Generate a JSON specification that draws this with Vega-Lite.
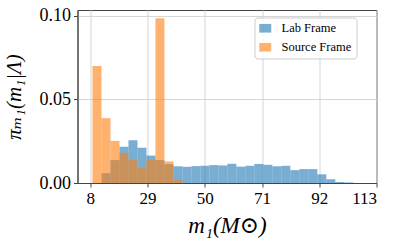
{
  "$schema": "https://vega.github.io/schema/vega-lite/v6.json",
  "width": 299,
  "height": 173,
  "autosize": {"type": "none"},
  "padding": {"left": 77.5, "top": 10, "right": 22.5, "bottom": 63},
  "data": {
    "values": [
      {"frame": "Lab Frame", "start": 12.1, "end": 15.4, "density": 0.0059},
      {"frame": "Lab Frame", "start": 15.4, "end": 18.7, "density": 0.0137},
      {"frame": "Lab Frame", "start": 18.7, "end": 22.0, "density": 0.0217},
      {"frame": "Lab Frame", "start": 22.0, "end": 25.3, "density": 0.0256},
      {"frame": "Lab Frame", "start": 25.3, "end": 28.6, "density": 0.0211},
      {"frame": "Lab Frame", "start": 28.6, "end": 31.9, "density": 0.0164},
      {"frame": "Lab Frame", "start": 31.9, "end": 35.2, "density": 0.0137},
      {"frame": "Lab Frame", "start": 35.2, "end": 38.5, "density": 0.0113},
      {"frame": "Lab Frame", "start": 38.5, "end": 41.8, "density": 0.0100},
      {"frame": "Lab Frame", "start": 41.8, "end": 45.1, "density": 0.0097},
      {"frame": "Lab Frame", "start": 45.1, "end": 48.4, "density": 0.0101},
      {"frame": "Lab Frame", "start": 48.4, "end": 51.7, "density": 0.0103},
      {"frame": "Lab Frame", "start": 51.7, "end": 55.0, "density": 0.0107},
      {"frame": "Lab Frame", "start": 55.0, "end": 58.3, "density": 0.0105},
      {"frame": "Lab Frame", "start": 58.3, "end": 61.6, "density": 0.0115},
      {"frame": "Lab Frame", "start": 61.6, "end": 64.9, "density": 0.0098},
      {"frame": "Lab Frame", "start": 64.9, "end": 68.2, "density": 0.0103},
      {"frame": "Lab Frame", "start": 68.2, "end": 71.5, "density": 0.0114},
      {"frame": "Lab Frame", "start": 71.5, "end": 74.8, "density": 0.0109},
      {"frame": "Lab Frame", "start": 74.8, "end": 78.1, "density": 0.0100},
      {"frame": "Lab Frame", "start": 78.1, "end": 81.4, "density": 0.0103},
      {"frame": "Lab Frame", "start": 81.4, "end": 84.7, "density": 0.0077},
      {"frame": "Lab Frame", "start": 84.7, "end": 88.0, "density": 0.0083},
      {"frame": "Lab Frame", "start": 88.0, "end": 91.3, "density": 0.0083},
      {"frame": "Lab Frame", "start": 91.3, "end": 94.6, "density": 0.0052},
      {"frame": "Lab Frame", "start": 94.6, "end": 97.9, "density": 0.0023},
      {"frame": "Lab Frame", "start": 97.9, "end": 101.2, "density": 0.0006},
      {"frame": "Lab Frame", "start": 101.2, "end": 104.5, "density": 0.0003},
      {"frame": "Source Frame", "start": 8.8, "end": 12.1, "density": 0.0700},
      {"frame": "Source Frame", "start": 12.1, "end": 15.4, "density": 0.0388},
      {"frame": "Source Frame", "start": 15.4, "end": 18.7, "density": 0.0252},
      {"frame": "Source Frame", "start": 18.7, "end": 22.0, "density": 0.0179},
      {"frame": "Source Frame", "start": 22.0, "end": 25.3, "density": 0.0137},
      {"frame": "Source Frame", "start": 25.3, "end": 28.6, "density": 0.0092},
      {"frame": "Source Frame", "start": 28.6, "end": 31.9, "density": 0.0137},
      {"frame": "Source Frame", "start": 31.9, "end": 35.2, "density": 0.0986},
      {"frame": "Source Frame", "start": 35.2, "end": 38.5, "density": 0.0129},
      {"frame": "Source Frame", "start": 38.5, "end": 41.8, "density": 0.0017}
    ]
  },
  "mark": {"type": "bar", "opacity": 0.6, "strokeWidth": 0},
  "encoding": {
    "x": {
      "field": "start",
      "type": "quantitative",
      "scale": {"domain": [3.3, 113], "nice": false, "zero": false},
      "axis": {"values": [8, 29, 50, 71, 92, 113], "format": "d", "title": "m₁(M⊙)", "titlePadding": 8}
    },
    "x2": {"field": "end"},
    "y": {
      "field": "density",
      "type": "quantitative",
      "stack": null,
      "scale": {"domain": [0, 0.1035], "nice": false},
      "axis": {"values": [0, 0.05, 0.1], "format": ".2f", "title": "πₘ₁(m₁|Λ)", "titlePadding": 15, "titleFontSize": 21, "labelFontSize": 18}
    },
    "y2": {"datum": 0},
    "color": {
      "field": "frame",
      "type": "nominal",
      "scale": {"domain": ["Lab Frame", "Source Frame"], "range": ["#1f77b4", "#ff7f0e"]},
      "legend": {
        "title": null,
        "orient": "none",
        "legendX": 177,
        "legendY": 7.5,
        "symbolType": "M-1,-0.72H1V0.72H-1Z",
        "symbolSize": 144,
        "symbolOpacity": 0.6,
        "symbolStrokeWidth": 0,
        "labelFont": "Liberation Serif, Times New Roman, DejaVu Serif, serif",
        "labelFontSize": 12.5,
        "labelColor": "#000000",
        "labelOffset": 10,
        "rowPadding": 6,
        "padding": 4.5,
        "strokeColor": "#cccccc",
        "fillColor": "rgba(255,255,255,0.8)",
        "cornerRadius": 3
      }
    }
  },
  "config": {
    "view": {"stroke": "#444444"},
    "axis": {
      "grid": true,
      "gridColor": "#d5d5d5",
      "domainColor": "#444444",
      "tickColor": "#444444",
      "tickSize": 4,
      "labelFont": "Liberation Serif, Times New Roman, DejaVu Serif, serif",
      "labelFontSize": 17,
      "labelColor": "#000000",
      "labelPadding": 3,
      "titleFont": "Liberation Serif, Times New Roman, DejaVu Serif, serif",
      "titleFontSize": 23,
      "titleFontWeight": "normal",
      "titleFontStyle": "italic",
      "titleColor": "#000000"
    }
  }
}
